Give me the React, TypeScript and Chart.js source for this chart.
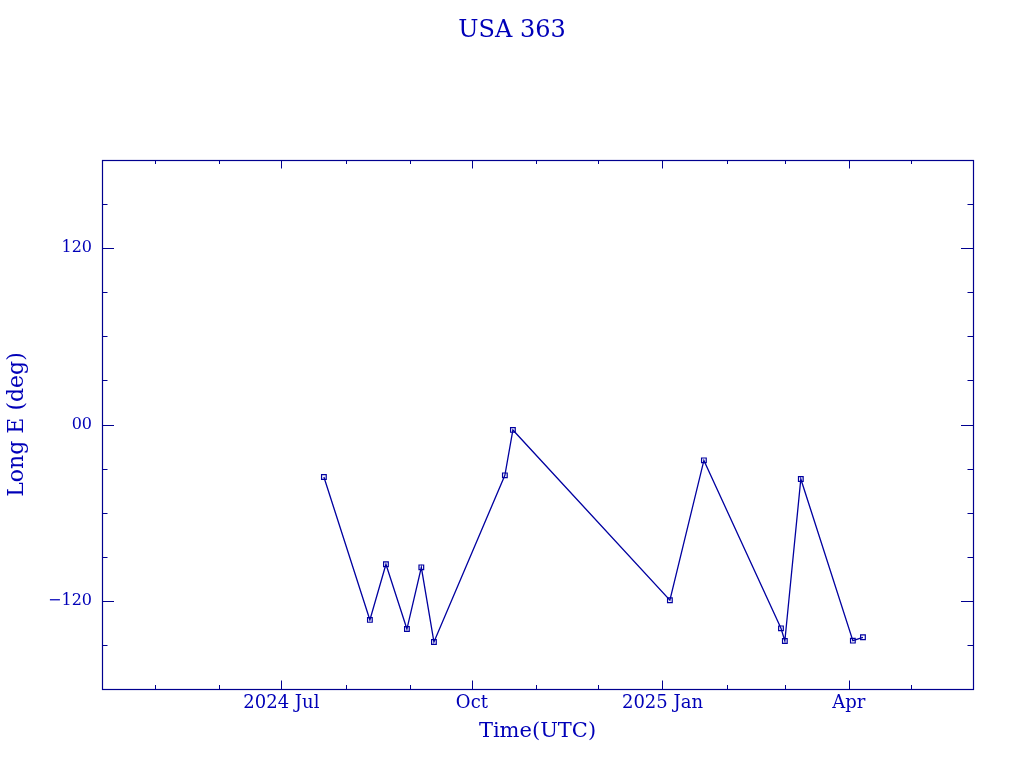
import React, { useEffect, useRef } from 'react';
import { Chart, registerables } from 'chart.js';

Chart.register(...registerables);

// ---- data ----
const TITLE = 'USA 363';
const X_LABEL = 'Time(UTC)';
const Y_LABEL = 'Long E (deg)';

const OBS_TIMES = [
  '2024-07-21T13:00:00Z',
  '2024-08-12T18:00:00Z',
  '2024-08-20T12:00:00Z',
  '2024-08-30T15:00:00Z',
  '2024-09-06T14:00:00Z',
  '2024-09-12T16:00:00Z',
  '2024-10-16T22:00:00Z',
  '2024-10-20T19:00:00Z',
  '2025-01-04T14:00:00Z',
  '2025-01-21T00:00:00Z',
  '2025-02-27T05:00:00Z',
  '2025-03-01T02:00:00Z',
  '2025-03-08T19:00:00Z',
  '2025-04-02T22:00:00Z',
  '2025-04-07T19:00:00Z',
];
const LONGITUDES = [
  -35.7, -133.0, -95.1, -139.2, -97.2, -148.0, -34.6, -3.7,
  -119.6, -24.4, -138.7, -147.3, -37.1, -147.1, -144.8,
];

const X_MIN = '2024-04-05T10:00:00Z';
const X_MAX = '2025-05-30T22:00:00Z';
const X_MAJOR_TICKS = ['2024-07-01T00:00:00Z', '2024-10-01T00:00:00Z', '2025-01-01T00:00:00Z', '2025-04-01T00:00:00Z'];
const X_MAJOR_LABELS = ['2024 Jul', 'Oct', '2025 Jan', 'Apr'];
const X_MINOR_TICKS = [
  '2024-05-01T00:00:00Z', '2024-06-01T00:00:00Z', '2024-08-01T00:00:00Z', '2024-09-01T00:00:00Z',
  '2024-11-01T00:00:00Z', '2024-12-01T00:00:00Z', '2025-02-01T00:00:00Z', '2025-03-01T00:00:00Z',
  '2025-05-01T00:00:00Z',
];

const Y_MIN = -180;
const Y_MAX = 180;
const Y_MAJOR_TICKS = [-120, 0, 120];
const Y_MAJOR_LABELS = ['\u2212120', '00', '120'];
const Y_MINOR_TICKS = [-150, -90, -60, -30, 30, 60, 90, 150];

// ---- styles ----
const AXIS_COLOR = '#00008f';
const TEXT_COLOR = '#0000b8';
const LINE_COLOR = '#0000a0';
const FONT = '"DejaVu Serif", serif';

const t = (s: string) => Date.parse(s);

const framePlugin = {
  id: 'frame',
  afterDraw(chart: any) {
    const { ctx, chartArea } = chart;
    const { left, right, top, bottom } = chartArea;
    const xs = chart.scales.x;
    const ys = chart.scales.y;
    ctx.save();
    ctx.strokeStyle = AXIS_COLOR;
    ctx.lineWidth = 1.2;
    ctx.strokeRect(Math.round(left) + 0.5, Math.round(top) + 0.5, Math.round(right - left), Math.round(bottom - top));
    ctx.lineWidth = 1;
    ctx.beginPath();
    const xTick = (v: number, len: number) => {
      const px = Math.round(xs.getPixelForValue(v)) + 0.5;
      ctx.moveTo(px, bottom);
      ctx.lineTo(px, bottom - len);
      ctx.moveTo(px, top);
      ctx.lineTo(px, top + len);
    };
    const yTick = (v: number, len: number) => {
      const py = Math.round(ys.getPixelForValue(v)) + 0.5;
      ctx.moveTo(left, py);
      ctx.lineTo(left + len, py);
      ctx.moveTo(right, py);
      ctx.lineTo(right - len, py);
    };
    X_MAJOR_TICKS.forEach((s) => xTick(t(s), 8.5));
    X_MINOR_TICKS.forEach((s) => xTick(t(s), 4));
    Y_MAJOR_TICKS.forEach((v) => yTick(v, 12));
    Y_MINOR_TICKS.forEach((v) => yTick(v, 5.5));
    ctx.stroke();
    ctx.restore();
  },
};

export default function App() {
  const ref = useRef<HTMLCanvasElement | null>(null);

  useEffect(() => {
    if (!ref.current) return;
    const data = OBS_TIMES.map((s, i) => ({ x: t(s), y: LONGITUDES[i] }));
    const chart = new Chart(ref.current, {
      type: 'line',
      data: {
        datasets: [
          {
            data,
            borderColor: LINE_COLOR,
            borderWidth: 1.3,
            tension: 0,
            pointStyle: 'rect',
            pointRadius: 3.3,
            pointBorderWidth: 1.2,
            pointBorderColor: LINE_COLOR,
            pointBackgroundColor: 'rgba(255,255,255,0)',
          },
        ],
      },
      options: {
        responsive: false,
        animation: false,
        layout: { padding: 0 },
        plugins: {
          legend: { display: false },
          tooltip: { enabled: false },
          title: {
            display: true,
            text: TITLE,
            color: TEXT_COLOR,
            font: { family: FONT, size: 24, weight: 'normal', lineHeight: 1.2 },
            padding: { top: 16, bottom: 115.2 },
          },
        },
        scales: {
          x: {
            type: 'linear',
            min: t(X_MIN),
            max: t(X_MAX),
            grid: { display: false, drawTicks: false },
            border: { display: false },
            afterBuildTicks: (scale: any) => {
              scale.ticks = X_MAJOR_TICKS.map((s) => ({ value: t(s) }));
            },
            afterFit: (scale: any) => {
              scale.height = 79;
            },
            ticks: {
              autoSkip: false,
              maxRotation: 0,
              padding: 4,
              color: TEXT_COLOR,
              font: { family: FONT, size: 18 },
              callback: (v: any) => {
                const i = X_MAJOR_TICKS.findIndex((s) => t(s) === v);
                return i >= 0 ? X_MAJOR_LABELS[i] : '';
              },
            },
            title: {
              display: true,
              text: X_LABEL,
              color: TEXT_COLOR,
              font: { family: FONT, size: 21, lineHeight: 1.2 },
              padding: { top: 0, bottom: 24 },
            },
          },
          y: {
            type: 'linear',
            min: Y_MIN,
            max: Y_MAX,
            grid: { display: false, drawTicks: false },
            border: { display: false },
            afterBuildTicks: (scale: any) => {
              scale.ticks = Y_MAJOR_TICKS.map((v) => ({ value: v }));
            },
            afterFit: (scale: any) => {
              scale.width = 102;
            },
            ticks: {
              autoSkip: false,
              padding: 10,
              color: TEXT_COLOR,
              font: { family: FONT, size: 16 },
              callback: (v: any) => {
                const i = Y_MAJOR_TICKS.indexOf(v);
                return i >= 0 ? Y_MAJOR_LABELS[i] : '';
              },
            },
            title: {
              display: true,
              text: Y_LABEL,
              color: TEXT_COLOR,
              font: { family: FONT, size: 22, lineHeight: 1.2 },
              padding: { top: 4, bottom: 0 },
            },
          },
          yRight: {
            type: 'linear',
            position: 'right',
            min: Y_MIN,
            max: Y_MAX,
            grid: { display: false, drawTicks: false },
            border: { display: false },
            ticks: { display: false },
            afterFit: (scale: any) => {
              scale.width = 51;
            },
          },
        },
      },
      plugins: [framePlugin],
    } as any);
    return () => chart.destroy();
  }, []);

  return (
    <div style={{ position: 'absolute', left: 0, top: 0, width: 1024, height: 768, background: '#fff' }}>
      <canvas ref={ref} width={1024} height={768} style={{ width: 1024, height: 768 }} />
    </div>
  );
}
